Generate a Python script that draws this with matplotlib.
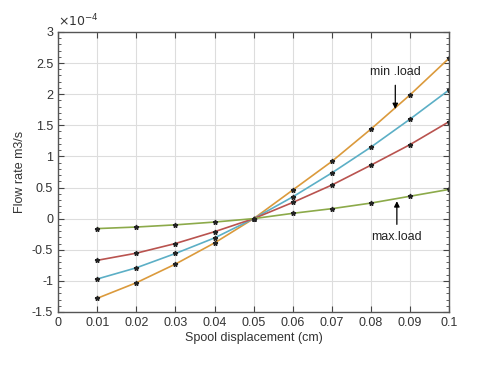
import matplotlib
matplotlib.use("Agg")
import matplotlib.pyplot as plt
from matplotlib.ticker import MultipleLocator

plt.rcParams["font.family"] = ["Liberation Sans", "DejaVu Sans"]

# data (flow rate in units of 1e-4 m3/s)
x = [0.01, 0.02, 0.03, 0.04, 0.05, 0.06, 0.07, 0.08, 0.09, 0.1]
q_min = [-1.28, -1.03, -0.73, -0.39, 0.0, 0.46, 0.92, 1.44, 1.99, 2.58]
q_mid1 = [-0.97, -0.79, -0.56, -0.31, 0.0, 0.35, 0.735, 1.15, 1.60, 2.07]
q_mid2 = [-0.67, -0.555, -0.40, -0.21, 0.0, 0.26, 0.54, 0.86, 1.19, 1.56]
q_max = [-0.16, -0.135, -0.10, -0.055, 0.0, 0.085, 0.16, 0.25, 0.36, 0.47]

series = [q_min, q_mid1, q_mid2, q_max]
colors = ["#DB9A3C", "#5CAFC6", "#B9534F", "#8CAA4A"]

fig = plt.figure(figsize=(4.8, 3.75), dpi=100)
ax = fig.add_axes([0.121, 0.168, 0.815, 0.747])

for q, c in zip(series, colors):
    ax.plot(x, q, color=c, lw=1.2)
    ax.plot(x, q, ls="none", marker="*", color="#222222", ms=3.5)

ax.set_xlim(0, 0.1)
ax.set_ylim(-1.5, 3)
ax.set_xticks([0, 0.01, 0.02, 0.03, 0.04, 0.05, 0.06, 0.07, 0.08, 0.09, 0.1])
ax.set_xticklabels(["0", "0.01", "0.02", "0.03", "0.04", "0.05", "0.06", "0.07", "0.08", "0.09", "0.1"])
ax.set_yticks([-1.5, -1, -0.5, 0, 0.5, 1, 1.5, 2, 2.5, 3])
ax.set_yticklabels(["-1.5", "-1", "-0.5", "0", "0.5", "1", "1.5", "2", "2.5", "3"])
ax.yaxis.set_minor_locator(MultipleLocator(0.1))
ax.tick_params(axis="both", which="both", direction="in", top=True, right=True,
               labelsize=9, colors="#444444", labelcolor="#333333")
ax.tick_params(which="major", length=4)
ax.tick_params(which="minor", length=2)
ax.grid(True, color="#dddddd", lw=0.8)
for s in ax.spines.values():
    s.set_color("#555555")
    s.set_linewidth(1.0)

ax.text(0.0, 1.01, r"$\times10^{-4}$", transform=ax.transAxes, fontsize=9,
        color="#333333", va="bottom", ha="left")

ax.set_xlabel("Spool displacement (cm)", fontsize=9, color="#333333", labelpad=2)
ax.set_ylabel("Flow rate m3/s", fontsize=9, color="#333333", labelpad=4)

ax.annotate("min .load", xy=(0.0862, 1.76), xytext=(0.0862, 2.35),
            ha="center", va="center", fontsize=9, color="#222222",
            arrowprops=dict(arrowstyle="-|>", color="black", lw=0.9,
                            shrinkA=3, shrinkB=0, mutation_scale=8))
ax.annotate("max.load", xy=(0.0866, 0.28), xytext=(0.0866, -0.30),
            ha="center", va="center", fontsize=9, color="#222222",
            arrowprops=dict(arrowstyle="-|>", color="black", lw=0.9,
                            shrinkA=3, shrinkB=0, mutation_scale=8))

fig.savefig("out.png", dpi=100)
plt.close(fig)
